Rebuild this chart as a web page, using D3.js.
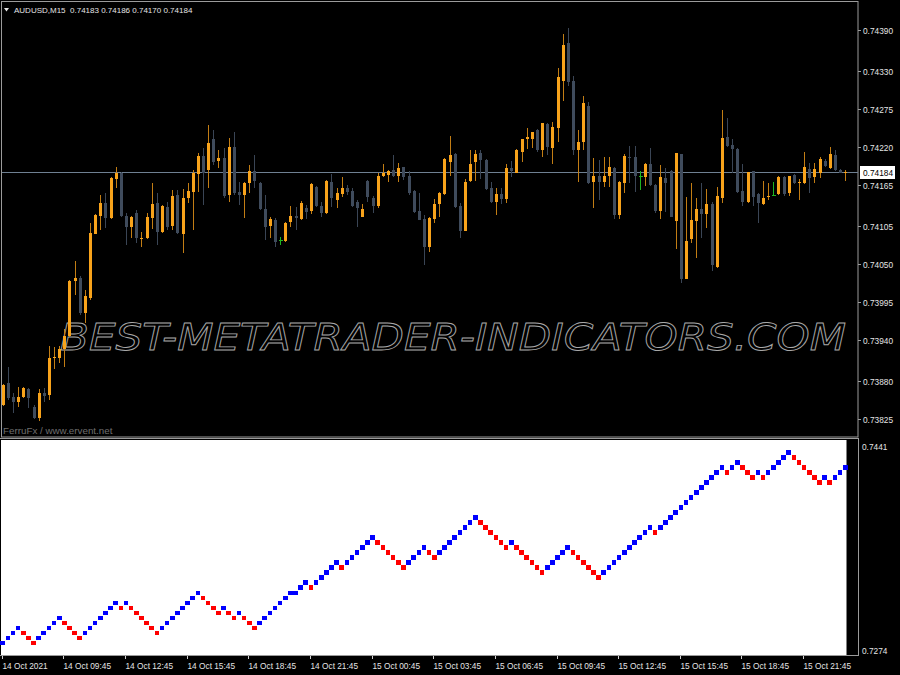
<!DOCTYPE html>
<html><head><meta charset="utf-8">
<script src="https://cdn.jsdelivr.net/npm/d3@7"></script>
<style>html,body{margin:0;padding:0;background:#000;overflow:hidden}svg{display:block}</style>
</head><body><svg id="c" width="900" height="675"></svg>
<script>
const symbolTitle = "AUDUSD,M15";
const lastOHLC = [0.74183, 0.74186, 0.74170, 0.74184];
const currentPrice = 0.74184;

const opens = [0.73846,0.73877,0.73857,0.73850,0.73857,0.73869,0.73843,0.73827,0.73863,0.73860,
0.73914,0.73914,0.73926,0.73945,0.74026,0.74030,0.73979,0.74001,0.74094,0.74120,
0.74139,0.74117,0.74174,0.74182,0.74120,0.74104,0.74124,0.74087,0.74088,0.74117,
0.74139,0.74097,0.74133,0.74106,0.74150,0.74094,0.74146,0.74155,0.74181,0.74207,
0.74187,0.74231,0.74200,0.74204,0.74150,0.74220,0.74155,0.74150,0.74168,0.74185,
0.74168,0.74130,0.74106,0.74114,0.74085,0.74084,0.74111,0.74120,0.74116,0.74132,
0.74127,0.74162,0.74135,0.74124,0.74169,0.74143,0.74152,0.74161,0.74156,0.74140,
0.74119,0.74171,0.74146,0.74135,0.74178,0.74180,0.74187,0.74178,0.74191,0.74178,
0.74156,0.74127,0.74116,0.74075,0.74116,0.74137,0.74152,0.74199,0.74210,0.74135,
0.74098,0.74171,0.74199,0.74212,0.74201,0.74161,0.74140,0.74152,0.74145,0.74190,
0.74182,0.74213,0.74232,0.74231,0.74245,0.74215,0.74254,0.74219,0.74248,0.74316,
0.74371,0.74316,0.74215,0.74228,0.74280,0.74169,0.74178,0.74169,0.74178,0.74190,
0.74121,0.74168,0.74206,0.74206,0.74178,0.74177,0.74196,0.74165,0.74127,0.74175,
0.74185,0.74113,0.74210,0.74029,0.74087,0.74113,0.74130,0.74123,0.74137,0.74046,
0.74146,0.74235,0.74223,0.74217,0.74156,0.74140,0.74185,0.74152,0.74137,0.74148,
0.74151,0.74152,0.74177,0.74153,0.74180,0.74168,0.74168,0.74188,0.74177,0.74182,
0.74200,0.74190,0.74209,0.74187,0.74183];
const highs = [0.73876,0.73900,0.73863,0.73872,0.73872,0.73870,0.73846,0.73869,0.73870,0.73931,
0.73930,0.73931,0.73955,0.74027,0.74055,0.74032,0.74013,0.74109,0.74123,0.74150,
0.74153,0.74177,0.74191,0.74184,0.74124,0.74120,0.74129,0.74097,0.74124,0.74168,
0.74153,0.74136,0.74140,0.74158,0.74158,0.74159,0.74168,0.74187,0.74212,0.74219,
0.74252,0.74245,0.74216,0.74219,0.74233,0.74242,0.74169,0.74169,0.74194,0.74209,
0.74169,0.74150,0.74119,0.74117,0.74090,0.74111,0.74135,0.74133,0.74142,0.74136,
0.74168,0.74164,0.74140,0.74172,0.74181,0.74161,0.74177,0.74165,0.74161,0.74143,
0.74137,0.74172,0.74149,0.74182,0.74196,0.74187,0.74209,0.74197,0.74191,0.74185,
0.74158,0.74153,0.74121,0.74119,0.74145,0.74155,0.74204,0.74236,0.74212,0.74139,
0.74174,0.74215,0.74216,0.74216,0.74203,0.74169,0.74161,0.74161,0.74196,0.74200,
0.74217,0.74232,0.74248,0.74242,0.74246,0.74255,0.74255,0.74257,0.74335,0.74384,
0.74393,0.74323,0.74245,0.74294,0.74286,0.74204,0.74201,0.74206,0.74206,0.74191,
0.74171,0.74210,0.74222,0.74222,0.74185,0.74197,0.74219,0.74166,0.74194,0.74190,
0.74187,0.74212,0.74210,0.74148,0.74168,0.74146,0.74168,0.74159,0.74140,0.74162,
0.74274,0.74262,0.74231,0.74219,0.74196,0.74184,0.74185,0.74153,0.74171,0.74168,
0.74169,0.74178,0.74178,0.74178,0.74181,0.74174,0.74213,0.74197,0.74197,0.74206,
0.74203,0.74220,0.74216,0.74188,0.74186];
const lows = [0.73844,0.73853,0.73834,0.73843,0.73856,0.73841,0.73825,0.73822,0.73849,0.73853,
0.73897,0.73907,0.73901,0.73944,0.74005,0.73976,0.73965,0.73998,0.74093,0.74100,
0.74103,0.74116,0.74161,0.74119,0.74078,0.74088,0.74081,0.74075,0.74087,0.74101,
0.74078,0.74095,0.74100,0.74100,0.74093,0.74066,0.74139,0.74100,0.74155,0.74136,
0.74161,0.74194,0.74190,0.74146,0.74140,0.74150,0.74136,0.74117,0.74153,0.74161,
0.74129,0.74085,0.74088,0.74075,0.74078,0.74082,0.74104,0.74100,0.74114,0.74116,
0.74123,0.74133,0.74119,0.74123,0.74133,0.74132,0.74148,0.74150,0.74133,0.74104,
0.74119,0.74140,0.74124,0.74132,0.74177,0.74169,0.74177,0.74169,0.74172,0.74150,
0.74124,0.74114,0.74049,0.74068,0.74110,0.74119,0.74150,0.74178,0.74132,0.74088,
0.74098,0.74169,0.74171,0.74174,0.74158,0.74139,0.74121,0.74137,0.74139,0.74177,
0.74182,0.74199,0.74217,0.74219,0.74213,0.74206,0.74209,0.74196,0.74228,0.74287,
0.74309,0.74209,0.74169,0.74215,0.74166,0.74132,0.74143,0.74162,0.74162,0.74116,
0.74116,0.74153,0.74168,0.74155,0.74158,0.74163,0.74163,0.74124,0.74116,0.74126,
0.74118,0.74072,0.74023,0.74029,0.74081,0.74059,0.74088,0.74103,0.74040,0.74045,
0.74139,0.74220,0.74182,0.74153,0.74135,0.74139,0.74135,0.74110,0.74136,0.74143,
0.74149,0.74150,0.74149,0.74149,0.74166,0.74143,0.74166,0.74153,0.74168,0.74175,
0.74191,0.74188,0.74185,0.74182,0.74170];
const closes = [0.73875,0.73856,0.73849,0.73857,0.73870,0.73856,0.73827,0.73863,0.73859,0.73913,
0.73915,0.73926,0.73945,0.74026,0.74030,0.73979,0.74003,0.74095,0.74121,0.74139,
0.74117,0.74175,0.74182,0.74120,0.74104,0.74119,0.74088,0.74088,0.74119,0.74137,
0.74097,0.74135,0.74104,0.74149,0.74095,0.74146,0.74156,0.74182,0.74207,0.74182,
0.74226,0.74199,0.74204,0.74149,0.74220,0.74153,0.74150,0.74168,0.74185,0.74171,
0.74130,0.74104,0.74116,0.74082,0.74085,0.74110,0.74120,0.74117,0.74139,0.74126,
0.74166,0.74135,0.74124,0.74171,0.74146,0.74153,0.74161,0.74155,0.74135,0.74132,
0.74130,0.74148,0.74135,0.74178,0.74182,0.74185,0.74178,0.74190,0.74177,0.74153,
0.74126,0.74114,0.74075,0.74117,0.74137,0.74153,0.74203,0.74209,0.74133,0.74098,
0.74169,0.74196,0.74210,0.74201,0.74159,0.74140,0.74152,0.74145,0.74190,0.74185,
0.74215,0.74232,0.74235,0.74242,0.74215,0.74255,0.74220,0.74249,0.74322,0.74368,
0.74315,0.74215,0.74228,0.74284,0.74168,0.74178,0.74169,0.74178,0.74191,0.74121,
0.74169,0.74207,0.74204,0.74178,0.74178,0.74196,0.74165,0.74127,0.74177,0.74168,
0.74119,0.74212,0.74029,0.74084,0.74114,0.74130,0.74123,0.74137,0.74048,0.74149,
0.74233,0.74222,0.74217,0.74155,0.74140,0.74184,0.74148,0.74139,0.74146,0.74149,
0.74151,0.74177,0.74152,0.74178,0.74168,0.74169,0.74191,0.74175,0.74188,0.74203,
0.74193,0.74210,0.74187,0.74183,0.74184];

const signal = [0.72833,0.72872,0.72911,0.72950,0.72911,0.72872,0.72833,0.72872,0.72911,0.72950,
0.72989,0.73028,0.72989,0.72950,0.72911,0.72872,0.72911,0.72950,0.72989,0.73028,
0.73067,0.73106,0.73145,0.73106,0.73145,0.73106,0.73067,0.73028,0.72989,0.72950,
0.72911,0.72950,0.72989,0.73028,0.73067,0.73106,0.73145,0.73184,0.73223,0.73184,
0.73145,0.73106,0.73067,0.73106,0.73067,0.73028,0.73067,0.73028,0.72989,0.72950,
0.72989,0.73028,0.73067,0.73106,0.73145,
0.73184,0.73223,0.73223,0.73262,0.73301,0.73262,0.73301,0.73340,0.73379,0.73418,0.73457,0.73418,0.73457,0.73496,0.73535,0.73574,0.73613,0.73652,
0.73613,0.73574,0.73535,0.73496,0.73457,0.73418,
0.73457,0.73496,0.73535,0.73574,
0.73535,0.73496,
0.73535,0.73574,0.73613,0.73652,0.73691,0.73730,0.73769,0.73808,
0.73769,0.73730,0.73691,0.73652,0.73613,0.73574,0.73613,0.73574,0.73535,0.73496,0.73457,0.73418,0.73379,
0.73418,0.73457,0.73496,0.73535,0.73574,
0.73535,0.73496,0.73457,0.73418,0.73379,0.73340,
0.73379,0.73418,0.73457,0.73496,0.73535,0.73574,0.73613,0.73652,0.73691,0.73730,
0.73691,
0.73730,0.73769,0.73808,0.73847,0.73886,0.73925,0.73964,0.74003,0.74042,0.74081,0.74120,0.74159,0.74198,
0.74159,0.74198,0.74237,0.74198,0.74159,0.74120,0.74159,0.74120,0.74159,0.74198,
0.74237,0.74276,0.74315,0.74276,0.74237,0.74198,0.74159,0.74120,0.74081,0.74120,0.74081,0.74120,0.74159,0.74198];

const priceTicks = [0.74390,0.74330,0.74275,0.74220,0.74165,0.74105,0.74050,0.73995,0.73940,0.73880,0.73825];
const subTicks = [0.7441, 0.7274];
const timeLabels = ["14 Oct 2021","14 Oct 09:45","14 Oct 12:45","14 Oct 15:45","14 Oct 18:45","14 Oct 21:45","15 Oct 00:45","15 Oct 03:45","15 Oct 06:45","15 Oct 09:45","15 Oct 12:45","15 Oct 15:45","15 Oct 18:45","15 Oct 21:45"];
const timeLabelBars = [0,12,24,36,48,60,72,84,96,108,120,132,144,156];

const svg = d3.select("#c");
const W = 900, H = 675;
const n = opens.length;
const x = d3.scaleLinear().domain([0, n - 1]).range([2.7, 845.2]);
const y = d3.scaleLinear().domain([0.73825, 0.74390]).range([419, 30]);
const y2 = d3.scaleLinear().domain([0.7274, 0.7441]).range([655, 440]);

const FONT = "'Liberation Sans', Arial, sans-serif";
const FS = 8.3;
const TXT = "#e4e4e4";
const BULL = "#f8a31b", BEAR = "#3f4b5c", BULLW = "#c27d14", BEARW = "#3a4555", DOJI = "#1fb51f";

svg.append("rect").attr("width", W).attr("height", H).attr("fill", "#000");

const frameCol = "#9b9b9b";
svg.append("rect").attr("x", 1.5).attr("y", 1.5).attr("width", 856.5).attr("height", 435.5)
  .attr("fill", "none").attr("stroke", frameCol).attr("stroke-width", 1);

// watermark
svg.append("text").attr("x", 60).attr("y", 350)
  .attr("font-family", "'DejaVu Sans', sans-serif").attr("font-size", 38)
  .attr("font-style", "italic")
  .attr("textLength", 786).attr("lengthAdjust", "spacingAndGlyphs")
  .attr("fill", "none").attr("stroke", "#a8a8a8").attr("stroke-width", 0.9)
  .text("BEST-METATRADER-INDICATORS.COM");

// current price line
const cpy = Math.round(y(currentPrice)) + 0.5;
svg.append("line").attr("x1", 2).attr("x2", 858).attr("y1", cpy).attr("y2", cpy)
  .attr("stroke", "#6f8092").attr("stroke-width", 1);

// candles
const bars = d3.range(n).map(i => ({i, o: opens[i], h: highs[i], l: lows[i], c: closes[i]}));
const g = svg.append("g").attr("shape-rendering", "crispEdges");
bars.forEach(d => {
  const cx = Math.round(x(d.i)) + 0.5;
  const doji = d.o === d.c;
  const bull = d.c > d.o;
  const wcol = doji ? DOJI : (bull ? BULLW : BEARW);
  g.append("line").attr("x1", cx).attr("x2", cx).attr("y1", y(d.h)).attr("y2", y(d.l))
    .attr("stroke", wcol).attr("stroke-width", 1);
  if (doji) {
    g.append("line").attr("x1", cx - 2).attr("x2", cx + 2).attr("y1", Math.round(y(d.o)) + 0.5).attr("y2", Math.round(y(d.o)) + 0.5)
      .attr("stroke", DOJI).attr("stroke-width", 1);
  } else {
    const top = y(Math.max(d.o, d.c)), bot = y(Math.min(d.o, d.c));
    g.append("rect").attr("x", cx - 1.5).attr("y", top).attr("width", 3).attr("height", Math.max(1, bot - top))
      .attr("fill", bull ? BULL : BEAR);
  }
});

// header
svg.append("path").attr("d", "M4,8 L9,8 L6.5,11.5 Z").attr("fill", TXT);
svg.append("text").attr("x", 14).attr("y", 13).attr("font-family", FONT).attr("font-size", 8)
  .attr("fill", TXT).attr("xml:space", "preserve")
  .text(symbolTitle + "  " + lastOHLC.map(v => v.toFixed(5)).join(" "));

svg.append("text").attr("x", 3).attr("y", 434).attr("font-family", FONT).attr("font-size", 9.8)
  .attr("fill", "#6e6e6e").text("FerruFx / www.ervent.net");

// price axis
const pa = svg.append("g");
priceTicks.forEach(p => {
  const yy = Math.round(y(p)) + 0.5;
  pa.append("line").attr("x1", 858).attr("x2", 861).attr("y1", yy).attr("y2", yy).attr("stroke", frameCol);
  pa.append("text").attr("x", 863).attr("y", yy + 3).attr("font-family", FONT).attr("font-size", FS)
    .attr("fill", TXT).text(p.toFixed(5));
});
pa.append("rect").attr("x", 860).attr("y", cpy - 6.5).attr("width", 35).attr("height", 13).attr("fill", "#fff");
pa.append("text").attr("x", 863).attr("y", cpy + 3).attr("font-family", FONT).attr("font-size", FS)
  .attr("fill", "#000").text(currentPrice.toFixed(5));

// sub window
svg.append("line").attr("x1", 0).attr("x2", 858).attr("y1", 438.5).attr("y2", 438.5).attr("stroke", frameCol);
svg.append("rect").attr("x", 1).attr("y", 440).attr("width", 845.5).attr("height", 215).attr("fill", "#fff");
svg.append("line").attr("x1", 858.5).attr("x2", 858.5).attr("y1", 438).attr("y2", 656).attr("stroke", frameCol);
svg.append("line").attr("x1", 0).attr("x2", 858).attr("y1", 655.5).attr("y2", 655.5).attr("stroke", frameCol);

let prevCol = "#0000ff";
const sq = svg.append("g").attr("shape-rendering", "crispEdges");
signal.forEach((v, i) => {
  let col = prevCol;
  if (i > 0) { if (v > signal[i - 1]) col = "#0000ff"; else if (v < signal[i - 1]) col = "#ff0000"; }
  prevCol = col;
  sq.append("rect").attr("x", x(i) - 2.3).attr("y", y2(v) - 2.3).attr("width", 4.6).attr("height", 4.6).attr("fill", col);
});

subTicks.forEach((p, k) => {
  svg.append("text").attr("x", 862).attr("y", k === 0 ? 450 : 654).attr("font-family", FONT).attr("font-size", FS)
    .attr("fill", TXT).text(p.toFixed(4));
});

// time axis
timeLabels.forEach((t, k) => {
  const tx = Math.round(x(timeLabelBars[k])) - 0.5;
  svg.append("line").attr("x1", tx).attr("x2", tx).attr("y1", 656).attr("y2", 659).attr("stroke", "#d0d0d0");
  svg.append("text").attr("x", Math.max(1, tx)).attr("y", 668.5).attr("font-family", FONT).attr("font-size", FS)
    .attr("fill", TXT).text(t);
});
</script></body></html>
